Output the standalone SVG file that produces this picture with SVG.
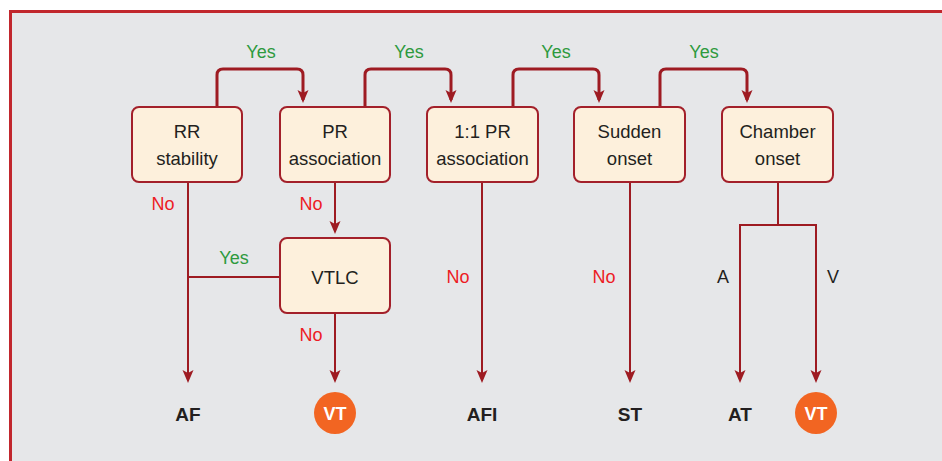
<svg xmlns="http://www.w3.org/2000/svg" width="942" height="461" viewBox="0 0 942 461">
<style>
.bx{fill:#fdf0dc;stroke:#a3202a;stroke-width:2}
.t{font-family:"Liberation Sans",Arial,sans-serif;font-size:18.5px;fill:#231f20;text-anchor:middle}
.ln{fill:none;stroke:#9e1b22;stroke-width:2}
.yl{fill:none;stroke:#9e1b22;stroke-width:3}
.yes{font-family:"Liberation Sans",Arial,sans-serif;font-size:18px;fill:#2e9a3e;text-anchor:middle}
.no{font-family:"Liberation Sans",Arial,sans-serif;font-size:18px;fill:#ed1c24;text-anchor:middle}
.lb{font-family:"Liberation Sans",Arial,sans-serif;font-size:18px;fill:#231f20;text-anchor:middle}
.out{font-family:"Liberation Sans",Arial,sans-serif;font-size:19px;font-weight:bold;fill:#231f20;text-anchor:middle}
.vt{font-family:"Liberation Sans",Arial,sans-serif;font-size:18px;font-weight:bold;fill:#ffffff;text-anchor:middle}
.circ{fill:#f26522}
</style>
<defs>
<marker id="ah" viewBox="-12 -7 16 14" refX="0" refY="0" markerWidth="16" markerHeight="14" markerUnits="userSpaceOnUse" orient="auto">
<path d="M3,0 L-10,-5.5 L-7,0 L-10,5.5 Z" fill="#9e1b22"/>
</marker>
</defs>
<rect x="11" y="12" width="931" height="449" fill="#e6e7e9"/>
<path d="M10.5,461 V11.5 H942" fill="none" stroke="#c1272d" stroke-width="3"/>

<g id="connectors">
<path class="yl" d="M217,107 V75 Q217,69 223,69 H297 Q303,69 303,75 V100" marker-end="url(#ah)"/>
<path class="yl" d="M365,107 V75 Q365,69 371,69 H445 Q451,69 451,75 V100" marker-end="url(#ah)"/>
<path class="yl" d="M513,107 V75 Q513,69 519,69 H593 Q599,69 599,75 V100" marker-end="url(#ah)"/>
<path class="yl" d="M660,107 V75 Q660,69 666,69 H741 Q747,69 747,75 V100" marker-end="url(#ah)"/>
<path class="ln" d="M188,182 V380" marker-end="url(#ah)"/>
<path class="ln" d="M280,277 H188"/>
<path class="ln" d="M335,182 V231" marker-end="url(#ah)"/>
<path class="ln" d="M335,313 V380" marker-end="url(#ah)"/>
<path class="ln" d="M482,182 V380" marker-end="url(#ah)"/>
<path class="ln" d="M630,182 V380" marker-end="url(#ah)"/>
<path class="ln" d="M778,182 V225"/>
<path class="ln" d="M739,225 H817"/>
<path class="ln" d="M740,224 V380" marker-end="url(#ah)"/>
<path class="ln" d="M816,224 V380" marker-end="url(#ah)"/>
<text class="yes" x="261" y="58">Yes</text>
<text class="yes" x="409" y="58">Yes</text>
<text class="yes" x="556" y="58">Yes</text>
<text class="yes" x="704" y="58">Yes</text>
<text class="yes" x="234" y="264">Yes</text>
<text class="no" x="163" y="210">No</text>
<text class="no" x="311" y="210">No</text>
<text class="no" x="311" y="341">No</text>
<text class="no" x="458" y="283">No</text>
<text class="no" x="604" y="283">No</text>
<text class="lb" x="723" y="283">A</text>
<text class="lb" x="833" y="283">V</text>
</g>

<g id="rr"><rect class="bx" x="132" y="107" width="110" height="75" rx="7"/>
<text class="t" x="187" y="138">RR</text><text class="t" x="187" y="165">stability</text></g>
<g id="pr"><rect class="bx" x="280" y="107" width="110" height="75" rx="7"/>
<text class="t" x="335" y="138">PR</text><text class="t" x="335" y="165">association</text></g>
<g id="pr11"><rect class="bx" x="427" y="107" width="111" height="75" rx="7"/>
<text class="t" x="482.5" y="138">1:1 PR</text><text class="t" x="482.5" y="165">association</text></g>
<g id="sudden"><rect class="bx" x="574" y="107" width="111" height="75" rx="7"/>
<text class="t" x="629.5" y="138">Sudden</text><text class="t" x="629.5" y="165">onset</text></g>
<g id="chamber"><rect class="bx" x="722" y="107" width="111" height="75" rx="7"/>
<text class="t" x="777.5" y="138">Chamber</text><text class="t" x="777.5" y="165">onset</text></g>
<g id="vtlc"><rect class="bx" x="280" y="238" width="110" height="75" rx="7"/>
<text class="t" x="335" y="284">VTLC</text></g>

<g id="af"><text class="out" x="188" y="421">AF</text></g>
<g id="vt1"><circle class="circ" cx="335" cy="413" r="21"/><text class="vt" x="335" y="420">VT</text></g>
<g id="afi"><text class="out" x="482" y="421">AFI</text></g>
<g id="st"><text class="out" x="630" y="421">ST</text></g>
<g id="at"><text class="out" x="740" y="421">AT</text></g>
<g id="vt2"><circle class="circ" cx="816" cy="413" r="21"/><text class="vt" x="816" y="420">VT</text></g>
</svg>
